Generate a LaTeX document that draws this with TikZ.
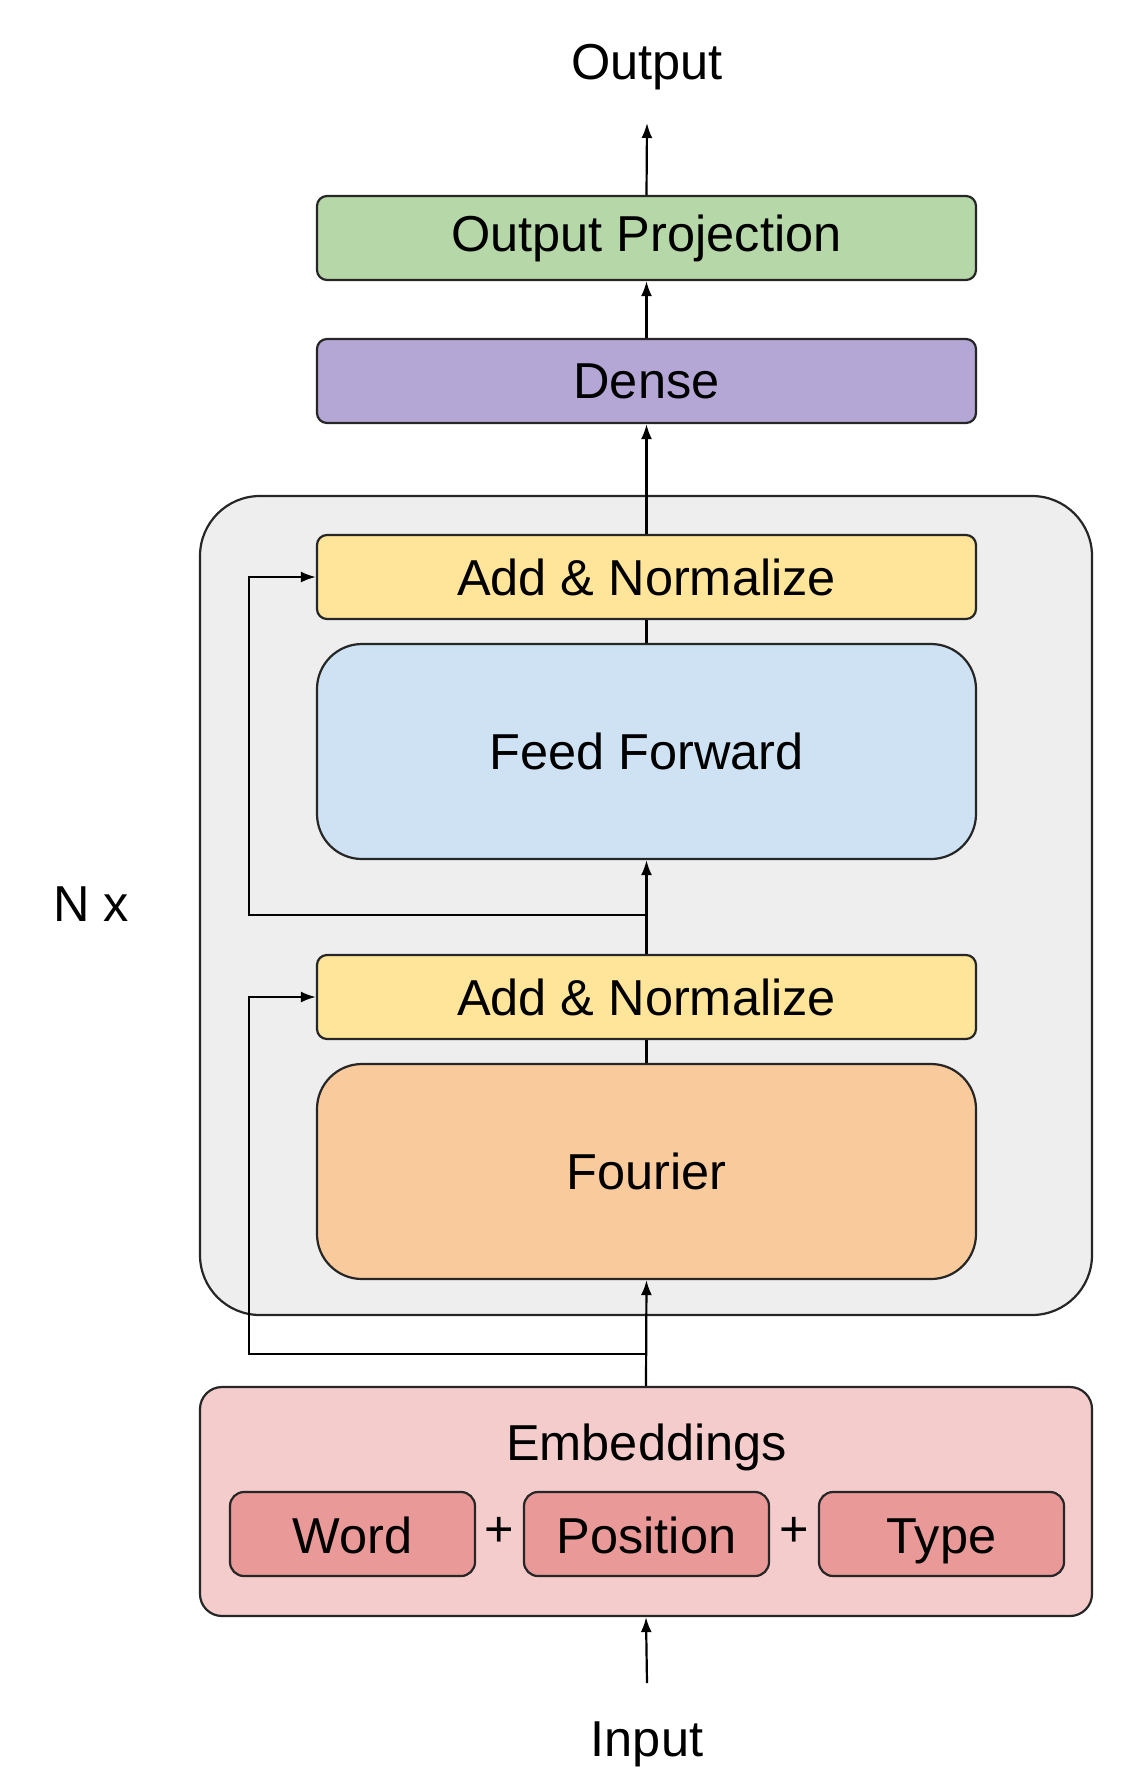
\documentclass[tikz,border=0pt]{standalone}
\usepackage{fontspec}
\setmainfont{Liberation Sans}
\usepackage{xcolor}
\usepackage{tikz}
\usetikzlibrary{arrows.meta}

\definecolor{projgreen}{HTML}{B6D7A8}
\definecolor{densepurple}{HTML}{B4A7D6}
\definecolor{normyellow}{HTML}{FFE599}
\definecolor{ffblue}{HTML}{CFE2F3}
\definecolor{fourierorange}{HTML}{F9CB9C}
\definecolor{embpink}{HTML}{F4CCCC}
\definecolor{tokpink}{HTML}{EA9999}
\definecolor{blockgray}{HTML}{EEEEEE}

\tikzset{
  layer/.style={rectangle, rounded corners=10pt, draw=black!85, line width=2.2pt, minimum width=659pt, minimum height=84pt, inner sep=0pt},
  bigger/.style={layer, rounded corners=45pt, minimum height=215pt},
  tok/.style={layer, rounded corners=14pt, fill=tokpink, minimum width=245pt, text height=43pt, text depth=4pt},
  conn/.style={line width=2.2pt, -{Latex[length=15pt,width=11pt]}},
  link/.style={line width=2.2pt}
}

\begin{document}
\begin{tikzpicture}[x=1pt, y=-1pt, font=\fontsize{50.5}{60}\selectfont]
\useasboundingbox (0,0) rectangle (1139,1789);
\node[rectangle, rounded corners=60pt, draw=black!85, line width=2.2pt, minimum width=892pt, minimum height=819pt, fill=blockgray] (block) at (646,905.5) {};
\node (nx) at (91,904) {N x};

\node (output) at (647,67) {Output};
\node[layer, fill=projgreen] (proj) at (646.5,238) {Output Projection};
\node[layer, fill=densepurple] (dense) at (646.5,381) {Dense};
\node[layer, fill=normyellow] (addnorm2) at (646.5,577) {Add \& Normalize};
\node[bigger, fill=ffblue] (ff) at (646.5,751.5) {Feed Forward};
\node[layer, fill=normyellow] (addnorm1) at (646.5,997) {Add \& Normalize};
\node[bigger, fill=fourierorange] (fourier) at (646.5,1171.5) {Fourier};

\node[rectangle, rounded corners=22pt, draw=black!85, line width=2.2pt, minimum width=892pt, minimum height=229pt, fill=embpink] (emb) at (646,1501.5) {};
\node (embtitle) at (646.5,1447) {Embeddings};
\node[tok] (word) at (352.5,1534) {Word};
\node[tok] (position) at (646.5,1534) {Position};
\node[tok] (type) at (941.5,1534) {Type};
\node (plusa) at (499,1532) {+};
\node (plusb) at (794,1532) {+};
\node (input) at (647,1744) {Input};

% residual branch points
\coordinate (split1) at (647,1354);
\coordinate (split2) at (647,915);
\coordinate (toptip) at (647,123);
\coordinate (inbase) at (647,1683);

\draw[conn] (inbase) -- (emb.south);
\draw[conn] (emb.north) -- (fourier.south);
\draw[link] (fourier.north) -- (addnorm1.south);
\draw[conn] (addnorm1.north) -- (ff.south);
\draw[link] (ff.north) -- (addnorm2.south);
\draw[conn] (addnorm2.north) -- (dense.south);
\draw[conn] (dense.north) -- (proj.south);
\draw[conn] (proj.north) -- (toptip);

\draw[conn] (split1) -- (249,1354) |- (addnorm1.west);
\draw[conn] (split2) -- (249,915) |- (addnorm2.west);
\end{tikzpicture}
\end{document}
